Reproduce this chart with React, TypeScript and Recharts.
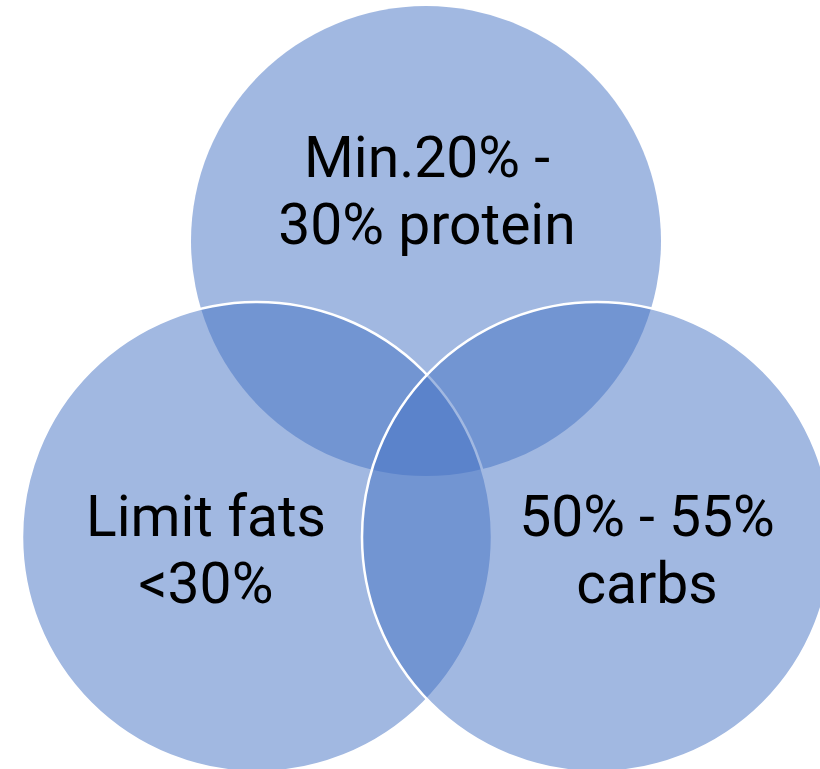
import { ScatterChart, Scatter, XAxis, YAxis } from 'recharts';

// Venn layout (in chart units, 1 unit = 1 px)
const sets = ['protein', 'fats', 'carbs'];
const centerX = [426, 257, 597];
const centerY = [241, 537, 537];
const radius = [235, 235, 235];

const labelLines = [
    ['Min.20% -', '30% protein'],
    ['Limit fats', '<30%'],
    ['50% - 55%', 'carbs'],
];
const labelX = [427, 206, 647];
const labelY = [177, 536, 536];

const W = 820;
const H = 769;
const X_MAX = 820;
const LINE_GAP = 67;

const circles = sets.map((name, i) => ({
    name,
    x: centerX[i],
    y: centerY[i],
    r: radius[i],
}));

const labels = sets.map((name, i) => ({
    name,
    x: labelX[i],
    y: labelY[i],
    lines: labelLines[i],
}));

const pxPerUnit = W / X_MAX;

function makeCircle(withStroke: boolean) {
    return (props: any) => {
        const { cx, cy, payload } = props;
        return (
            <circle
                cx={cx}
                cy={cy}
                r={payload.r * pxPerUnit}
                fill="#4472C4"
                fillOpacity={0.5}
                stroke={withStroke ? '#ffffff' : 'none'}
                strokeWidth={2.5}
            />
        );
    };
}

// each line is its own text element so the line boxes stay apart
function LabelShape(props: any) {
    const { cx, cy, payload } = props;
    return (
        <g>
            {payload.lines.map((line: string, i: number) => (
                <text
                    key={line}
                    x={cx}
                    y={cy + i * LINE_GAP}
                    textAnchor="middle"
                    fontFamily="Roboto, sans-serif"
                    fontSize={57}
                    fill="#000000"
                >
                    {line}
                </text>
            ))}
        </g>
    );
}

export default function App() {
    return (
        <div style={{ width: W, height: H, overflow: 'hidden', background: '#fff' }}>
            <style>{'body{margin:0}'}</style>
            <ScatterChart width={W} height={H} margin={{ top: 0, right: 0, bottom: 0, left: 0 }}>
                <XAxis type="number" dataKey="x" domain={[0, X_MAX]} hide />
                <YAxis type="number" dataKey="y" domain={[0, H]} reversed hide />
                <Scatter data={[circles[0]]} shape={makeCircle(false)} isAnimationActive={false} />
                <Scatter data={[circles[1]]} shape={makeCircle(true)} isAnimationActive={false} />
                <Scatter data={[circles[2]]} shape={makeCircle(true)} isAnimationActive={false} />
                <Scatter data={labels} shape={LabelShape} isAnimationActive={false} />
            </ScatterChart>
        </div>
    );
}
